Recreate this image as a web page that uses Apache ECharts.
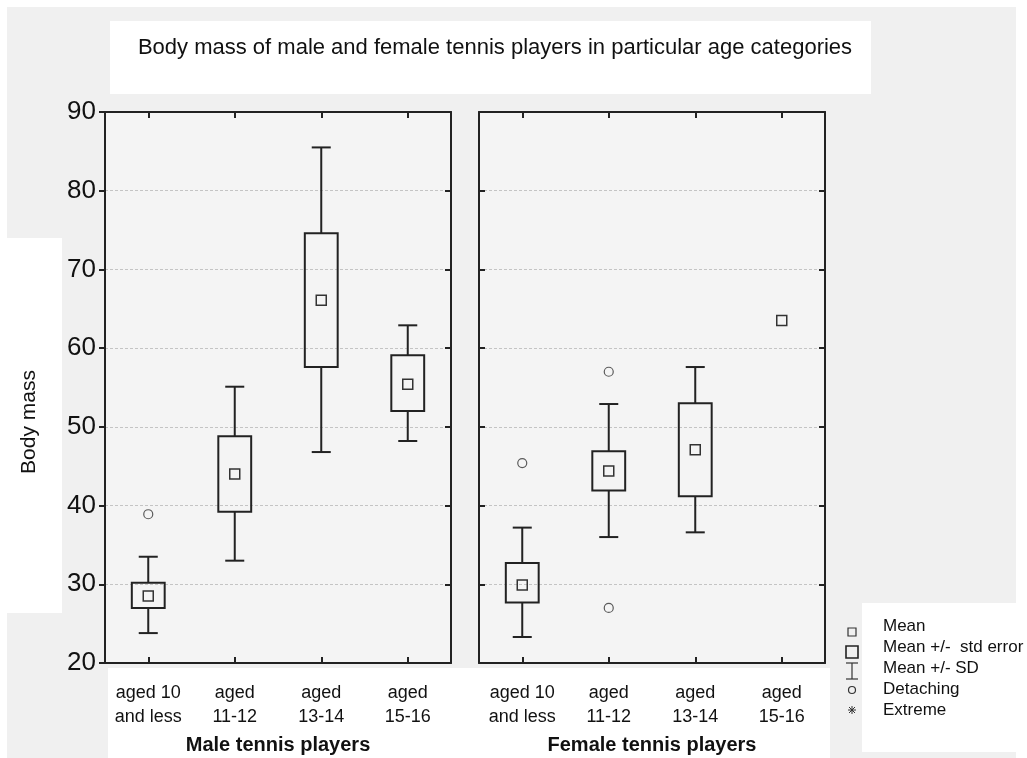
<!DOCTYPE html>
<html>
<head>
<meta charset="utf-8">
<script src="https://cdn.jsdelivr.net/npm/echarts@6/dist/echarts.min.js"></script>
<style>
  html, body { margin: 0; padding: 0; background: #fff; }
  #chart { width: 1027px; height: 758px; }
</style>
</head>
<body>
<div id="chart"></div>
<script>
// categories and tick labels
var ageCats = ['aged 10\nand less', 'aged\n11-12', 'aged\n13-14', 'aged\n15-16']
var yTicks = [20, 30, 40, 50, 60, 70, 80, 90]

// male players: mean, mean +/- std error, mean +/- SD
var maleMean = [28.5, 44.0, 66.1, 55.4]
var maleSeLow = [27.0, 39.2, 57.6, 52.0]
var maleSeHigh = [30.2, 48.8, 74.6, 59.1]
var maleSdLow = [23.8, 33.0, 46.8, 48.2]
var maleSdHigh = [33.5, 55.1, 85.5, 62.9]
var maleDetaching = [[0, 38.9]]

// female players (last group has only a mean)
var femaleMean = [29.9, 44.4, 47.1, 63.5]
var femaleSeLow = [27.7, 41.9, 41.2, null]
var femaleSeHigh = [32.7, 46.9, 53.0, null]
var femaleSdLow = [23.3, 36.0, 36.6, null]
var femaleSdHigh = [37.2, 52.9, 57.6, null]
var femaleDetaching = [[0, 45.4], [1, 57.0], [1, 27.0]]

var FONT = 'Liberation Sans, Arial, sans-serif'
var INK = '#222'

function rows(mean, seLo, seHi, sdLo, sdHi) {
  return mean.map(function(m, i) {
    return [i, m, seLo[i], seHi[i], sdLo[i], sdHi[i]]
  })
}

function renderStat(params, api) {
  var idx = api.value(0)
  var mean = api.value(1)
  var seLo = api.value(2)
  var seHi = api.value(3)
  var sdLo = api.value(4)
  var sdHi = api.value(5)
  var band = api.size([1, 0])[0]
  var boxHalf = band * 0.19
  var capHalf = band * 0.11
  var mHalf = 5
  var line = { stroke: INK, lineWidth: 2, fill: null }
  var kids = []
  var c = api.coord([idx, mean])
  var x = c[0]
  if (!isNaN(sdHi) && !isNaN(seHi)) {
    var a = api.coord([idx, sdHi])[1]
    var b = api.coord([idx, seHi])[1]
    kids.push({ type: 'line', shape: { x1: x, y1: a, x2: x, y2: b }, style: line })
    kids.push({ type: 'line', shape: { x1: x - capHalf, y1: a, x2: x + capHalf, y2: a }, style: line })
  }
  if (!isNaN(sdLo) && !isNaN(seLo)) {
    var d = api.coord([idx, sdLo])[1]
    var e = api.coord([idx, seLo])[1]
    kids.push({ type: 'line', shape: { x1: x, y1: e, x2: x, y2: d }, style: line })
    kids.push({ type: 'line', shape: { x1: x - capHalf, y1: d, x2: x + capHalf, y2: d }, style: line })
  }
  if (!isNaN(seLo) && !isNaN(seHi)) {
    var top = api.coord([idx, seHi])[1]
    var bot = api.coord([idx, seLo])[1]
    kids.push({ type: 'rect', shape: { x: x - boxHalf, y: top, width: boxHalf * 2, height: bot - top }, style: line })
  }
  kids.push({
    type: 'rect',
    shape: { x: x - mHalf, y: c[1] - mHalf, width: mHalf * 2, height: mHalf * 2 },
    style: { stroke: '#333', lineWidth: 1.5, fill: null }
  })
  return { type: 'group', children: kids }
}

var chart = echarts.init(document.getElementById('chart'))

var grids = [
  { left: 105, top: 112, width: 346, height: 551, show: true, backgroundColor: '#f4f4f4', borderWidth: 0, outerBoundsMode: 'none', containLabel: false },
  { left: 479, top: 112, width: 346, height: 551, show: true, backgroundColor: '#f4f4f4', borderWidth: 0, outerBoundsMode: 'none', containLabel: false }
]

function bottomX(gi, name) {
  return {
    type: 'category', gridIndex: gi, data: ageCats, position: 'bottom',
    axisLine: { show: true, lineStyle: { color: INK, width: 2 } },
    axisTick: { show: true, inside: true, length: 6, alignWithLabel: true, lineStyle: { color: INK, width: 2 } },
    axisLabel: { color: '#111', fontSize: 18, lineHeight: 24, fontFamily: FONT, margin: 18, interval: 0 },
    name: name, nameLocation: 'middle', nameGap: 72,
    nameTextStyle: { color: '#111', fontSize: 20, fontWeight: 'bold', fontFamily: FONT }
  }
}
function topX(gi) {
  return {
    type: 'category', gridIndex: gi, data: ageCats, position: 'top',
    axisLine: { show: true, lineStyle: { color: INK, width: 2 } },
    axisTick: { show: true, inside: true, length: 6, alignWithLabel: true, lineStyle: { color: INK, width: 2 } },
    axisLabel: { show: false }
  }
}
function yAx(gi, pos, labels, tickInside) {
  return {
    type: 'value', gridIndex: gi, position: pos, min: 20, max: 90, interval: 10,
    axisLine: { show: true, lineStyle: { color: INK, width: 2 } },
    axisTick: { show: true, inside: tickInside, length: 6, lineStyle: { color: INK, width: 2 } },
    axisLabel: { show: labels, color: '#111', fontSize: 26, fontFamily: FONT, margin: 9 },
    splitLine: { show: pos === 'left', lineStyle: { color: '#c4c4c4', width: 1, type: [3, 2] } }
  }
}

var bg = [
  { type: 'rect', z: -100, shape: { x: 7, y: 7, width: 1009, height: 751 }, style: { fill: '#f0f0f0' } },
  { type: 'rect', z: -99, shape: { x: 0, y: 238, width: 62, height: 375 }, style: { fill: '#fff' } },
  { type: 'rect', z: -99, shape: { x: 110, y: 21, width: 761, height: 73 }, style: { fill: '#fff' } },
  { type: 'rect', z: -99, shape: { x: 108, y: 668, width: 722, height: 90 }, style: { fill: '#fff' } },
  { type: 'rect', z: -99, shape: { x: 862, y: 603, width: 154, height: 149 }, style: { fill: '#fff' } },
  {
    type: 'text', x: 29, y: 422, rotation: Math.PI / 2,
    style: { text: 'Body mass', fill: '#111', fontSize: 21, fontFamily: FONT, align: 'center', verticalAlign: 'middle' }
  }
]

// legend drawn as plain shapes + text
var legX = 852, legTx = 883
var legRows = [626, 647, 668, 689, 710]
var legTexts = ['Mean', 'Mean +/-  std error', 'Mean +/- SD', 'Detaching', 'Extreme']
var lg = { stroke: '#333', lineWidth: 1.2, fill: null }
var legend = [
  { type: 'rect', shape: { x: legX - 4, y: legRows[0] + 2, width: 8, height: 8 }, style: lg },
  { type: 'rect', shape: { x: legX - 6, y: legRows[1] - 1, width: 12, height: 12 }, style: { stroke: '#222', lineWidth: 1.6, fill: null } },
  { type: 'line', shape: { x1: legX - 6, y1: legRows[2] - 5, x2: legX + 6, y2: legRows[2] - 5 }, style: lg },
  { type: 'line', shape: { x1: legX, y1: legRows[2] - 5, x2: legX, y2: legRows[2] + 11 }, style: lg },
  { type: 'line', shape: { x1: legX - 6, y1: legRows[2] + 11, x2: legX + 6, y2: legRows[2] + 11 }, style: lg },
  { type: 'circle', shape: { cx: legX, cy: legRows[3] + 1, r: 3.5 }, style: lg },
  { type: 'line', shape: { x1: legX - 4, y1: legRows[4], x2: legX + 4, y2: legRows[4] }, style: { stroke: '#333', lineWidth: 1 } },
  { type: 'line', shape: { x1: legX, y1: legRows[4] - 4, x2: legX, y2: legRows[4] + 4 }, style: { stroke: '#333', lineWidth: 1 } },
  { type: 'line', shape: { x1: legX - 3, y1: legRows[4] - 3, x2: legX + 3, y2: legRows[4] + 3 }, style: { stroke: '#333', lineWidth: 1 } },
  { type: 'line', shape: { x1: legX - 3, y1: legRows[4] + 3, x2: legX + 3, y2: legRows[4] - 3 }, style: { stroke: '#333', lineWidth: 1 } }
]
legTexts.forEach(function(t, i) {
  legend.push({
    type: 'text', x: legTx, y: legRows[i],
    style: { text: t, fill: '#111', fontSize: 17, fontFamily: FONT, verticalAlign: 'middle' }
  })
})

var option = {
  backgroundColor: '#fff',
  animation: false,
  title: {
    text: 'Body mass of male and female tennis players in particular age categories',
    left: 490, top: 32, textAlign: 'center',
    textStyle: { color: '#111', fontSize: 22, fontWeight: 'normal', fontFamily: FONT }
  },
  grid: grids,
  xAxis: [bottomX(0, 'Male tennis players'), bottomX(1, 'Female tennis players'), topX(0), topX(1)],
  yAxis: [
    yAx(0, 'left', true, false),
    yAx(1, 'left', false, true),
    yAx(0, 'right', false, true),
    yAx(1, 'right', false, true)
  ],
  graphic: bg.concat(legend),
  series: [
    {
      type: 'custom', name: 'Male', xAxisIndex: 0, yAxisIndex: 0,
      renderItem: renderStat, encode: { x: 0, y: 1 },
      data: rows(maleMean, maleSeLow, maleSeHigh, maleSdLow, maleSdHigh), z: 5
    },
    {
      type: 'custom', name: 'Female', xAxisIndex: 1, yAxisIndex: 1,
      renderItem: renderStat, encode: { x: 0, y: 1 },
      data: rows(femaleMean, femaleSeLow, femaleSeHigh, femaleSdLow, femaleSdHigh), z: 5
    },
    {
      type: 'scatter', name: 'Detaching', xAxisIndex: 0, yAxisIndex: 0,
      symbol: 'circle', symbolSize: 9, data: maleDetaching,
      itemStyle: { color: '#f4f4f4', borderColor: '#333', borderWidth: 1.2 }
    },
    {
      type: 'scatter', name: 'Detaching', xAxisIndex: 1, yAxisIndex: 1,
      symbol: 'circle', symbolSize: 9, data: femaleDetaching,
      itemStyle: { color: '#f4f4f4', borderColor: '#333', borderWidth: 1.2 }
    }
  ]
}

chart.setOption(option)
</script>
</body>
</html>
